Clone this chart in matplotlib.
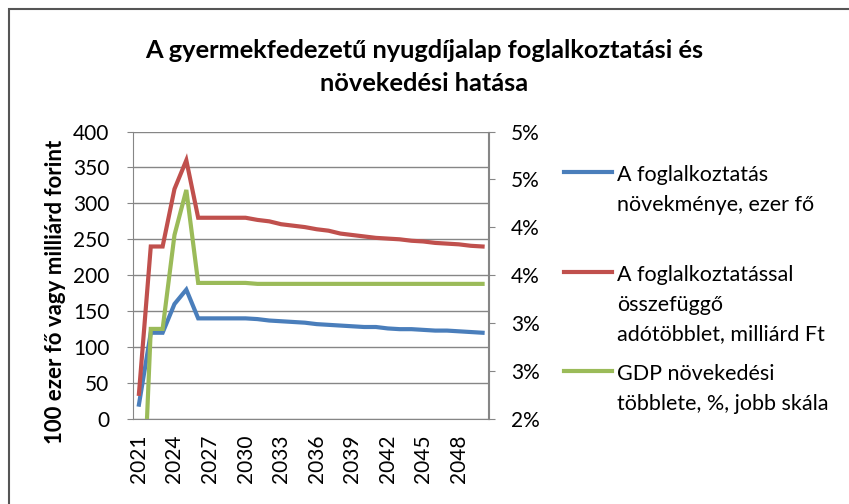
import numpy as np
import matplotlib.pyplot as plt
from matplotlib.lines import Line2D
from matplotlib.patches import Rectangle
from matplotlib.ticker import FuncFormatter

plt.rcParams['font.family'] = ['Lato', 'DejaVu Sans']

years = list(range(2021, 2051))
# foglalkoztatás növekménye, ezer fő
employment = [20, 120, 120, 160, 180, 140, 140, 140, 140, 140,
              139, 137, 136, 135, 134, 132, 131, 130, 129, 128,
              128, 126, 125, 125, 124, 123, 123, 122, 121, 120]
# adótöbblet, milliárd Ft
tax = [35, 240, 240, 320, 360, 280, 280, 280, 280, 280,
       277, 275, 271, 269, 267, 264, 262, 258, 256, 254,
       252, 251, 250, 248, 247, 245, 244, 243, 241, 240]
# GDP növekedési többlet, % (jobb skála)
gdp = [0.0, 2.94, 2.94, 3.92, 4.39, 3.42, 3.42, 3.42, 3.42, 3.42,
       3.41, 3.41, 3.41, 3.41, 3.41, 3.41, 3.41, 3.41, 3.41, 3.41,
       3.41, 3.41, 3.41, 3.41, 3.41, 3.41, 3.41, 3.41, 3.41, 3.41]

labels = ['A foglalkoztatás\nnövekménye, ezer fő',
          'A foglalkoztatással\nösszefüggő\nadótöbblet, milliárd Ft',
          'GDP növekedési\ntöbblete, %, jobb skála']
colors = ['#4A7EBB', '#C0504D', '#9BBB59']
grey = '#868686'

fig = plt.figure(figsize=(8.49, 5.04), dpi=100)
fig.add_artist(Rectangle((8.5 / 849, -0.1), 1.2, 1 - 9 / 504 + 0.1, transform=fig.transFigure,
                         fill=False, edgecolor='#555555', lw=1.5))

ax = fig.add_axes([133 / 849, 1 - 419 / 504, 355.5 / 849, 287.5 / 504])
x = np.arange(len(years))
ax.plot(x, employment, color=colors[0], lw=3, solid_joinstyle='miter', zorder=3)
ax.plot(x, tax, color=colors[1], lw=3, solid_joinstyle='miter', zorder=3)
ax.set_xlim(-0.5, len(years) - 0.5)
ax.set_ylim(0, 400)
ax.set_yticks(range(0, 401, 50))
ax.grid(axis='y', color=grey, lw=1)
ax.set_axisbelow(True)
ax.set_xticks(x[::3])
ax.set_xticklabels([str(y) for y in years[::3]], rotation=90)
ax.tick_params(axis='x', length=0, labelsize=15, pad=11)
ax.tick_params(axis='y', length=4, color=grey, labelsize=15, pad=13)
ax.spines['top'].set_visible(False)
for s in ['left', 'bottom', 'right']:
    ax.spines[s].set_color(grey)

ax2 = ax.twinx()
ax2.plot(x, [g / 100 for g in gdp], color=colors[2], lw=3, solid_joinstyle='miter', zorder=3)
ax2.set_ylim(0.02, 0.05)
ax2.set_yticks(np.arange(0.02, 0.0501, 0.005))
ax2.yaxis.set_major_formatter(FuncFormatter(lambda v, p: f"{int(np.floor(v * 100 + 0.5 + 1e-9))}%"))
ax2.tick_params(axis='y', length=5, color=grey, labelsize=15, pad=11)
for s in ['top', 'left', 'bottom']:
    ax2.spines[s].set_visible(False)
ax2.spines['right'].set_color(grey)

fig.text(0.5, 1 - 67 / 504, 'A gyermekfedezetű nyugdíjalap foglalkoztatási és\nnövekedési hatása',
         ha='center', va='center', fontsize=18.3, fontweight='bold', linespacing=1.5)
fig.text(55 / 849, 1 - 292 / 504, '100 ezer fő vagy milliárd forint', rotation=90,
         ha='center', va='center', fontsize=16, fontweight='bold')

# legend drawn by hand so the handle sits on the first text line
leg_y = [172, 272, 371]
for c, lab, yy in zip(colors, labels, leg_y):
    fy = 1 - yy / 504
    fig.add_artist(Line2D([564 / 849, 612 / 849], [fy, fy], color=c, lw=3, transform=fig.transFigure))
    fig.text(617 / 849, 1 - (yy - 7) / 504, lab, ha='left', va='top', fontsize=15.5, linespacing=1.6)

fig.savefig('out.png', dpi=100)
